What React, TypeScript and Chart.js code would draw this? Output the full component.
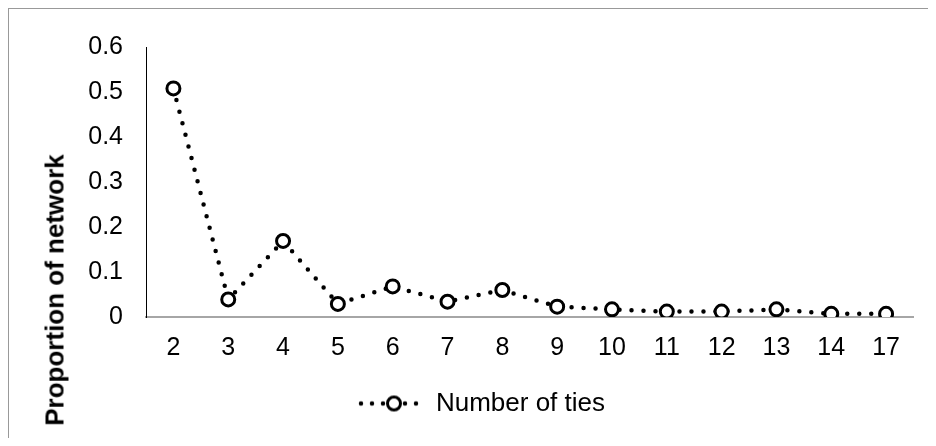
import React, { useEffect, useRef } from "react";
import { Chart, registerables } from "chart.js";

Chart.register(...registerables);

const categories = ["2", "3", "4", "5", "6", "7", "8", "9", "10", "11", "12", "13", "14", "17"];
const proportions = [0.508, 0.039, 0.169, 0.029, 0.068, 0.034, 0.06, 0.023, 0.017, 0.012, 0.012, 0.017, 0.007, 0.007];
const yTickValues = [0, 0.1, 0.2, 0.3, 0.4, 0.5, 0.6];
const yTickLabels = ["0", "0.1", "0.2", "0.3", "0.4", "0.5", "0.6"];
const seriesLabel = "Number of ties";
const yTitle = "Proportion of network";

const FONT = '"Liberation Sans", Arial, Helvetica, sans-serif';

function makeLegendMarker(): HTMLCanvasElement {
  const c = document.createElement("canvas");
  c.width = 65;
  c.height = 20;
  const ctx = c.getContext("2d")!;
  ctx.strokeStyle = "#000";
  ctx.lineWidth = 4.5;
  ctx.lineCap = "round";
  ctx.setLineDash([0, 11]);
  ctx.beginPath();
  ctx.moveTo(3, 10);
  ctx.lineTo(64, 10);
  ctx.stroke();
  ctx.setLineDash([]);
  ctx.beginPath();
  ctx.arc(36, 10, 6.5, 0, Math.PI * 2);
  ctx.fillStyle = "#fff";
  ctx.fill();
  ctx.lineWidth = 3;
  ctx.stroke();
  return c;
}

export default function App() {
  const canvasRef = useRef<HTMLCanvasElement | null>(null);

  useEffect(() => {
    if (!canvasRef.current) return;
    const marker = makeLegendMarker();
    const chart = new Chart(canvasRef.current, {
      type: "line",
      data: {
        labels: categories,
        datasets: [
          {
            label: seriesLabel,
            data: proportions,
            borderColor: "#000",
            borderWidth: 4.5,
            borderCapStyle: "round",
            borderDash: [0, 12],
            tension: 0,
            fill: false,
            pointRadius: 6.5,
            pointHoverRadius: 6.5,
            pointBorderWidth: 3,
            pointBackgroundColor: "#fff",
            pointBorderColor: "#000",
          },
        ],
      },
      options: {
        responsive: false,
        animation: false,
        color: "#000",
        layout: { padding: { left: 40.5, right: 22.5, top: 35, bottom: 19.5 } },
        plugins: {
          tooltip: { enabled: false },
          legend: {
            display: true,
            position: "bottom",
            labels: {
              usePointStyle: true,
              pointStyleWidth: 65,
              boxHeight: 20,
              padding: 10,
              color: "#000",
              font: { family: FONT, size: 26 },
              generateLabels: (ch: any) => {
                const items = Chart.defaults.plugins.legend.labels.generateLabels(ch);
                return items.map((it: any) => ({ ...it, pointStyle: marker, lineWidth: 0 }));
              },
            },
          },
        },
        scales: {
          x: {
            type: "category",
            offset: true,
            grid: { display: false, drawTicks: false },
            border: { display: true, color: "#a6a6a6", width: 2 },
            ticks: { color: "#000", padding: 16, font: { family: FONT, size: 25 }, maxRotation: 0, autoSkip: false },
            afterFit: (scale: any) => {
              scale.height = 63.5;
            },
          },
          y: {
            type: "linear",
            min: 0,
            max: 0.6,
            grid: { display: false, drawTicks: false },
            border: { display: true, color: "#000", width: 1 },
            ticks: {
              color: "#000",
              padding: 23,
              font: { family: FONT, size: 25 },
              callback: (value: any, index: number) => yTickLabels[index] ?? String(value),
            },
            afterBuildTicks: (scale: any) => {
              scale.ticks = yTickValues.map((v) => ({ value: v }));
            },
            afterFit: (scale: any) => {
              scale.width = 96.5;
            },
          },
        },
      },
    });
    return () => chart.destroy();
  }, []);

  return (
    <div
      style={{
        position: "relative",
        width: 928,
        height: 438,
        marginBottom: -8,
        boxSizing: "border-box",
        borderTop: "1px solid #999",
        borderLeft: "1px solid #999",
        background: "#fff",
      }}
    >
      <canvas
        ref={canvasRef}
        width={927}
        height={437}
        style={{ position: "absolute", left: 0, top: 0, width: 927, height: 437 }}
      />
      <div
        style={{
          position: "absolute",
          left: 46,
          top: 281,
          transform: "translate(-50%, -50%) rotate(-90deg)",
          whiteSpace: "nowrap",
          fontFamily: FONT,
          fontWeight: "bold",
          fontSize: 26,
          color: "#000",
        }}
      >
        {yTitle}
      </div>
    </div>
  );
}
